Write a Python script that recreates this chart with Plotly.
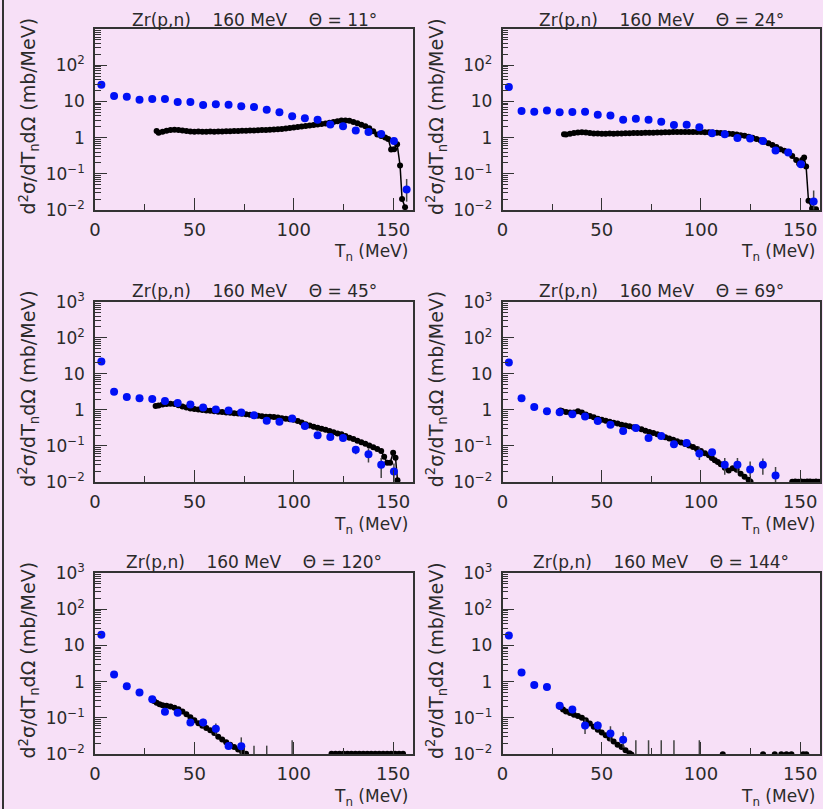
import plotly.graph_objects as go

BG = "#F7E0F7"
FONT = "DejaVu Sans"
TXT = "#2a2a2a"
W, H = 823, 809

angles = ["11", "24", "45", "69", "120", "144"]

# ---------- blue (measured) points ----------
e_all = [3.2, 9.6, 16.0, 22.4, 28.8, 35.2, 41.6, 48.0, 54.4, 60.8, 67.2, 73.6, 80.0,
         86.4, 92.8, 99.2, 105.6, 112.0, 118.4, 124.8, 131.2, 137.6, 144.0, 150.4, 156.8]

b11_x = e_all
b11_y = [28.8, 14.0, 13.4, 11.1, 11.6, 11.6, 9.6, 9.6, 7.9, 8.4, 8.1, 7.3, 7.0, 5.9, 5.0,
         3.9, 3.4, 3.1, 2.3, 2.05, 1.56, 1.43, 1.26, 0.81, 0.037]
b11_ep = [0, 0, 0, 0, 0, 0, 0, 0, 0, 0, 0, 0, 0, 0, 0, 0, 0, 0, 0, 0, 0, 0, 0, 0, 0.035]
b11_em = [0, 0, 0, 0, 0, 0, 0, 0, 0, 0, 0, 0, 0, 0, 0, 0, 0, 0, 0, 0, 0, 0, 0, 0, 0.02]

b24_x = e_all
b24_y = [24.8, 5.4, 5.2, 5.65, 5.0, 5.1, 5.2, 4.3, 4.1, 3.1, 3.3, 3.1, 2.75, 2.23, 2.28,
         1.92, 1.32, 1.24, 0.98, 0.94, 0.81, 0.44, 0.39, 0.185, 0.0173]
b24_ep = [0, 0, 0, 0, 0, 0, 0, 0, 0, 0, 0, 0, 0, 0, 0, 0, 0, 0, 0, 0, 0, 0, 0, 0, 0.017]
b24_em = [0, 0, 0, 0, 0, 0, 0, 0, 0, 0, 0, 0, 0, 0, 0, 0, 0, 0, 0, 0, 0, 0, 0, 0, 0.007]

b45_x = [3.2, 9.6, 16.0, 22.4, 28.8, 35.2, 41.6, 48.0, 54.4, 60.8, 67.2, 73.6, 80.0,
         86.4, 92.8, 99.2, 105.6, 112.0, 118.4, 124.8, 131.2, 137.6, 144.0, 150.4]
b45_y = [21.8, 3.2, 2.28, 2.1, 2.0, 1.77, 1.56, 1.40, 1.16, 1.02, 0.96, 0.85, 0.71, 0.50,
         0.47, 0.58, 0.355, 0.197, 0.177, 0.166, 0.079, 0.059, 0.030, 0.0197]
b45_ep = [0, 0, 0, 0, 0, 0, 0, 0, 0, 0, 0, 0, 0, 0, 0, 0, 0, 0, 0, 0, 0.02, 0.027, 0.016, 0.013]
b45_em = [0, 0, 0, 0, 0, 0, 0, 0, 0, 0, 0, 0, 0, 0, 0, 0, 0, 0, 0, 0, 0.02, 0.024, 0.017, 0.019]

b69_x = [3.2, 9.6, 16.0, 22.4, 28.8, 35.2, 41.6, 48.0, 54.4, 60.8, 67.2, 73.6, 80.0,
         86.4, 92.8, 99.2, 105.6, 112.0, 118.4, 124.8, 131.2, 137.6]
b69_y = [20.5, 2.1, 1.21, 0.92, 0.86, 0.76, 0.66, 0.49, 0.386, 0.259, 0.313, 0.166, 0.188,
         0.111, 0.121, 0.0615, 0.067, 0.030, 0.030, 0.0223, 0.030, 0.0152]
b69_ep = [0, 0, 0, 0, 0, 0, 0, 0, 0, 0, 0, 0, 0, 0, 0, 0.033, 0.013, 0.016, 0.016, 0.015, 0.015, 0.011]
b69_em = [0, 0, 0, 0, 0, 0, 0, 0, 0, 0, 0, 0, 0, 0, 0, 0.021, 0.012, 0.014, 0.011, 0.008, 0.014, 0.008]

b120_x = [3.2, 9.6, 16.0, 22.4, 28.8, 35.2, 41.6, 48.0, 54.4, 60.8, 67.2, 73.6, 80.0, 86.4, 99.2]
b120_y = [19.7, 1.56, 0.74, 0.50, 0.327, 0.146, 0.137, 0.0744, 0.0744, 0.0498, 0.0166,
          0.0163, 0.006, 0.006, 0.006]
b120_ep = [0, 0, 0, 0, 0, 0, 0, 0, 0.02, 0.02, 0, 0.0125, 0.011, 0.011, 0.018]
b120_em = [0, 0, 0, 0, 0, 0, 0, 0, 0.02, 0.016, 0, 0.007, 0.003, 0.003, 0.003]

b144_x = [3.2, 9.6, 16.0, 22.4, 28.8, 35.2, 41.6, 48.0, 54.4, 60.8, 67.2, 73.6, 80.0, 86.4, 99.2]
b144_y = [18.8, 1.77, 0.81, 0.71, 0.214, 0.170, 0.0615, 0.0615, 0.037, 0.0248, 0.006,
          0.006, 0.006, 0.006, 0.006]
b144_ep = [0, 0, 0, 0, 0, 0, 0.03, 0.018, 0.021, 0.015, 0.018, 0.018, 0.018, 0.018, 0.018]
b144_em = [0, 0, 0, 0, 0, 0, 0.026, 0.015, 0.014, 0.010, 0.003, 0.003, 0.003, 0.003, 0.003]

# ---------- black (calculation) curves ----------
k11_x = [31, 32, 34, 36, 38, 40, 42, 44, 46, 48, 50, 52, 54, 56, 58, 60, 62, 64, 66, 68, 70,
         72, 74, 76, 78, 80, 82, 84, 86, 88, 90, 92, 94, 96, 98, 100, 102, 104, 106, 108, 110,
         112, 114, 116, 118, 120, 122, 124, 126, 128, 130, 132, 134, 136, 138, 140, 142, 144,
         146, 147.5, 149, 150.5, 152, 153.5, 154.5, 156]
k11_y = [1.52, 1.36, 1.45, 1.55, 1.62, 1.66, 1.62, 1.56, 1.52, 1.48, 1.46, 1.47, 1.44, 1.46,
         1.48, 1.46, 1.47, 1.48, 1.49, 1.5, 1.52, 1.53, 1.55, 1.54, 1.56, 1.58, 1.6, 1.62, 1.63,
         1.65, 1.67, 1.7, 1.74, 1.78, 1.84, 1.9, 1.96, 2.02, 2.08, 2.15, 2.22, 2.3, 2.36, 2.45,
         2.58, 2.7, 2.85, 2.95, 2.98, 2.9, 2.7, 2.48, 2.25, 2.05, 1.8, 1.5, 1.22, 1.1, 1.0, 0.92,
         0.47, 0.48, 0.66, 0.17, 0.02, 0.012]

k24_x = [31, 32, 34, 36, 38, 40, 42, 44, 46, 48, 50, 52, 54, 56, 58, 60, 62, 64, 66, 68, 70,
         72, 74, 76, 78, 80, 82, 84, 86, 88, 90, 92, 94, 96, 98, 100, 102, 104, 106, 108, 110,
         112, 114, 116, 118, 120, 122, 124, 126, 128, 130, 132, 134, 136, 138, 140, 142, 144,
         146, 148, 149.5, 151, 152, 153, 154.2, 156, 158]
k24_y = [1.24, 1.22, 1.28, 1.33, 1.38, 1.40, 1.38, 1.34, 1.30, 1.29, 1.27, 1.28, 1.29, 1.28,
         1.29, 1.30, 1.31, 1.32, 1.33, 1.34, 1.35, 1.36, 1.37, 1.37, 1.38, 1.39, 1.40, 1.41,
         1.42, 1.42, 1.43, 1.43, 1.43, 1.43, 1.43, 1.42, 1.41, 1.40, 1.38, 1.36, 1.34, 1.31,
         1.28, 1.25, 1.21, 1.17, 1.12, 1.06, 0.99, 0.92, 0.84, 0.77, 0.70, 0.62, 0.55, 0.48,
         0.43, 0.38, 0.31, 0.24, 0.19, 0.24, 0.28, 0.16, 0.018, 0.011, 0.0105]

k45_x = [30.5, 32, 34, 36, 38, 40, 42, 44, 46, 48, 50, 52, 54, 56, 58, 60, 62, 64, 66, 68,
         70, 72, 74, 76, 78, 80, 82, 84, 86, 88, 90, 92, 94, 96, 98, 100, 102, 104, 106, 108,
         110, 112, 114, 116, 118, 120, 122, 124, 126, 128, 130, 132, 134, 136, 138, 140, 142,
         144, 145.5, 147, 148.5, 150, 151.2, 152.2]
k45_y = [1.29, 1.33, 1.40, 1.45, 1.49, 1.45, 1.35, 1.25, 1.17, 1.10, 1.06, 1.02, 0.99, 0.96,
         0.94, 0.92, 0.89, 0.87, 0.85, 0.83, 0.81, 0.79, 0.78, 0.76, 0.73, 0.71, 0.69, 0.67,
         0.65, 0.64, 0.63, 0.61, 0.59, 0.57, 0.55, 0.53, 0.49, 0.45, 0.40, 0.37, 0.34, 0.32,
         0.30, 0.28, 0.26, 0.24, 0.22, 0.21, 0.19, 0.17, 0.155, 0.14, 0.127, 0.115, 0.103,
         0.092, 0.082, 0.072, 0.050, 0.034, 0.034, 0.065, 0.047, 0.0112]

k69_x = [29.2, 30, 32, 34, 36, 38, 40, 42, 44, 46, 48, 50, 52, 54, 56, 58, 60, 62, 64, 66,
         68, 70, 72, 74, 76, 78, 80, 82, 84, 86, 88, 90, 92, 94, 96, 98, 100, 102, 104, 105.5,
         107, 108.5, 110, 112, 114, 116, 118, 120, 122, 124, 125]
k69_y = [0.96, 0.93, 0.88, 0.84, 0.85, 0.92, 0.84, 0.74, 0.68, 0.62, 0.57, 0.53, 0.50, 0.47,
         0.44, 0.42, 0.39, 0.37, 0.35, 0.33, 0.31, 0.29, 0.265, 0.245, 0.23, 0.21, 0.19, 0.175,
         0.16, 0.148, 0.135, 0.124, 0.113, 0.103, 0.093, 0.082, 0.072, 0.063, 0.055, 0.046,
         0.040, 0.036, 0.031, 0.025, 0.021, 0.024, 0.022, 0.017, 0.014, 0.0115, 0.0102]
k69_tail_x = [146, 147.5, 149, 150.5, 152, 153.5, 155, 156.5, 158, 159.5]
k69_tail_y = [0.0101, 0.0103, 0.0102, 0.0104, 0.0102, 0.0103, 0.0104, 0.0102, 0.0103, 0.0101]

k120_x = [29.7, 31, 32.5, 34, 36, 38, 40, 42, 44, 46, 48, 50, 52, 54, 56, 58, 60, 62, 64, 66,
          68, 70, 72, 74, 76]
k120_y = [0.29, 0.26, 0.235, 0.222, 0.215, 0.205, 0.19, 0.172, 0.15, 0.125, 0.104, 0.086,
          0.071, 0.060, 0.052, 0.045, 0.038, 0.030, 0.025, 0.021, 0.018, 0.0155, 0.0133,
          0.0115, 0.0101]
k120_tail_x = [119, 121, 123, 125, 127, 129, 131, 133, 135, 137, 139, 141, 143, 145, 147,
               149, 151, 153, 155]
k120_tail_y = [0.0101, 0.0102, 0.0101, 0.0102, 0.0102, 0.0101, 0.0102, 0.0101, 0.0102,
               0.0102, 0.0101, 0.0102, 0.0101, 0.0102, 0.0101, 0.0102, 0.0102, 0.0101, 0.0102]

k144_x = [29.2, 30.5, 32, 34, 36, 38, 40, 42, 44, 46, 48, 50, 52, 54, 56, 58, 60, 62, 64, 65]
k144_y = [0.20, 0.17, 0.15, 0.135, 0.122, 0.112, 0.10, 0.085, 0.07, 0.057, 0.047, 0.039,
          0.033, 0.027, 0.022, 0.018, 0.0155, 0.0127, 0.0105, 0.0097]
k144_tail_x = [111, 131.3, 137.2, 140.5, 143.1, 145.6, 151.5, 153.1]
k144_tail_y = [0.0099, 0.0099, 0.0099, 0.0099, 0.0099, 0.0099, 0.0099, 0.0099]

# axis tick labels
ytickvals = [0.01, 0.1, 1, 10, 100, 1000]
yticktext = ["10<sup>\u22122</sup>", "10<sup>\u22121</sup>", "1", "10", "10<sup>2</sup>", "10<sup>3</sup>"]
yticktext_top = ["10<sup>\u22122</sup>", "10<sup>\u22121</sup>", "1", "10", "10<sup>2</sup>", ""]
xtickvals = [0, 50, 100, 150]

panels = [
    dict(b=(b11_x, b11_y, b11_ep, b11_em), k=[(k11_x, k11_y, "lines+markers")]),
    dict(b=(b24_x, b24_y, b24_ep, b24_em), k=[(k24_x, k24_y, "lines+markers")]),
    dict(b=(b45_x, b45_y, b45_ep, b45_em), k=[(k45_x, k45_y, "lines+markers")]),
    dict(b=(b69_x, b69_y, b69_ep, b69_em), k=[(k69_x, k69_y, "lines+markers"),
                                               (k69_tail_x, k69_tail_y, "lines+markers")]),
    dict(b=(b120_x, b120_y, b120_ep, b120_em), k=[(k120_x, k120_y, "lines+markers"),
                                                   (k120_tail_x, k120_tail_y, "lines+markers")]),
    dict(b=(b144_x, b144_y, b144_ep, b144_em), k=[(k144_x, k144_y, "lines+markers"),
                                                   (k144_tail_x, k144_tail_y, "markers")]),
]

# layout geometry (pixels)
col_x = [(95, 413), (502.5, 820)]
row_y = [(29, 210), (301.7, 482), (573, 754)]

fig = go.Figure()
layout = dict(width=W, height=H, autosize=False, paper_bgcolor=BG, plot_bgcolor=BG,
              margin=dict(l=0, r=0, t=0, b=0, pad=0, autoexpand=False), showlegend=False,
              font=dict(family=FONT, color=TXT))
annotations = []
NB = "\u00a0"

for i, p in enumerate(panels):
    r, c = divmod(i, 2)
    n = i + 1
    xa = "x" if n == 1 else f"x{n}"
    ya = "y" if n == 1 else f"y{n}"
    for kx, ky, mode in p["k"]:
        fig.add_trace(go.Scatter(x=kx, y=ky, mode=mode, xaxis=xa, yaxis=ya,
                                 line=dict(color="black", width=1.5),
                                 marker=dict(color="black", size=6)))
    bx, by, bep, bem = p["b"]
    fig.add_trace(go.Scatter(x=bx, y=by, mode="markers", xaxis=xa, yaxis=ya,
                             marker=dict(color="#0010F5", size=8),
                             error_y=dict(type="data", symmetric=False, array=bep,
                                          arrayminus=bem, color="#444", thickness=1.5, width=0)))
    x0, x1 = col_x[c]
    y0, y1 = row_y[r]
    layout["xaxis" if n == 1 else f"xaxis{n}"] = dict(
        domain=[x0 / W, x1 / W], anchor=ya, range=[0, 160], automargin=False,
        tickvals=xtickvals, ticks="inside", ticklen=12, tickwidth=1.2, tickcolor="#333",
        minor=dict(dtick=25, tick0=0, ticks="inside", ticklen=6, tickcolor="#333", tickwidth=1.2),
        showline=True, linecolor="#333", linewidth=1.5, mirror=True,
        showgrid=False, zeroline=False, ticklabelstandoff=3,
        tickfont=dict(size=18, family=FONT, color=TXT))
    layout["yaxis" if n == 1 else f"yaxis{n}"] = dict(
        domain=[1 - y1 / H, 1 - y0 / H], anchor=xa, type="log", range=[-2, 3], automargin=False,
        tickvals=ytickvals, ticktext=(yticktext_top if r == 0 else yticktext),
        ticks="inside", ticklen=12, tickwidth=1.2, tickcolor="#333",
        minor=dict(dtick="D1", ticks="inside", ticklen=6, tickcolor="#333", tickwidth=1),
        showline=True, linecolor="#333", linewidth=1.5, mirror=True,
        showgrid=False, zeroline=False, ticklabelstandoff=5,
        tickfont=dict(size=17, family=FONT, color=TXT))
    xc = (x0 + x1) / 2
    title_y = y0 - 8.5 if r == 0 else y0 - 11
    annotations.append(dict(
        text=f"Zr(p,n){NB*4}160 MeV{NB*4}\u0398 = {angles[i]}\u00b0",
        x=xc / W, y=1 - title_y / H, xref="paper", yref="paper",
        xanchor="center", yanchor="middle", showarrow=False,
        font=dict(size=17, family=FONT, color=TXT)))
    annotations.append(dict(
        text="T<sub>n</sub> (MeV)", x=(x1 - 3) / W, y=1 - (y1 + 43) / H,
        xref="paper", yref="paper", xanchor="right", yanchor="middle", showarrow=False,
        font=dict(size=17, family=FONT, color=TXT)))
    annotations.append(dict(
        text="d<sup>2</sup>\u03c3/dT<sub>n</sub>d\u03a9 (mb/MeV)",
        x=(x0 - 66) / W, y=1 - ((y0 + y1) / 2 - 3) / H, xref="paper", yref="paper",
        xanchor="center", yanchor="middle", textangle=-90, showarrow=False,
        font=dict(size=19, family=FONT, color=TXT)))

layout["annotations"] = annotations
layout["shapes"] = [dict(type="line", xref="paper", yref="paper", x0=3 / W, x1=3 / W,
                         y0=0, y1=1, line=dict(color="#333", width=2))]
fig.update_layout(**layout)
fig.write_html("out.html")
